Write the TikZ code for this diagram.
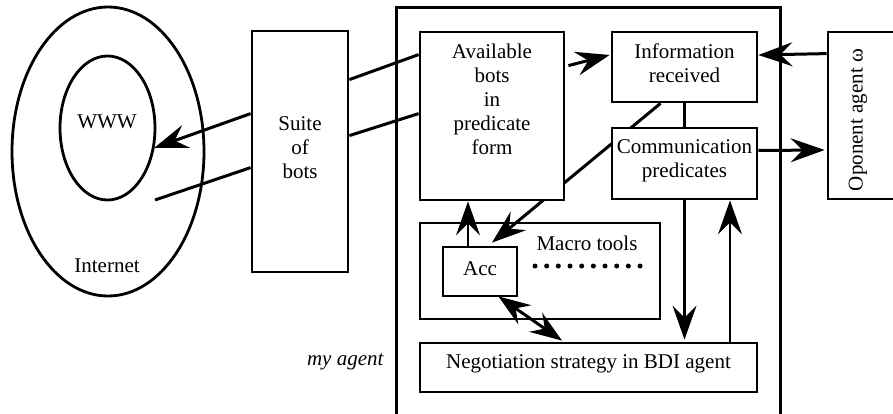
\documentclass[tikz,border=0pt]{standalone}
\usepackage{fontspec}
\setmainfont{Liberation Serif}
\usetikzlibrary{arrows.meta,shapes.geometric,calc,backgrounds}
\begin{document}
\begin{tikzpicture}[x=1pt,y=-1pt,
  every node/.style={font=\fontsize{21}{24}\selectfont},
  box/.style={draw,line width=2.8pt,minimum width=#1,inner sep=0pt},
  filledbox/.style={box=#1,fill=white},
  txt/.style={align=center,inner sep=0pt},
  oval/.style={draw,ellipse,line width=2.8pt,inner sep=0pt},
  conn/.style={line width=3pt},
  thin conn/.style={line width=2.4pt},
  arr/.style={-{Stealth[length=34pt,width=24pt,inset=12pt]}},
  darr/.style={{Stealth[length=32pt,width=23pt,inset=11pt]}-{Stealth[length=32pt,width=23pt,inset=11pt]}},
  tdot/.style={fill,circle,inner sep=0pt,minimum size=5pt}]
\useasboundingbox (0,0) rectangle (893,414);
\clip (0,0) rectangle (893,414);

% Internet and the WWW inside it
\node[oval,minimum width=192,minimum height=289] (internet) at (108,151.5) {};
\node[oval,minimum width=95,minimum height=144] (www) at (107.5,128) {};
\node[txt] (wwwtext) at (107,122) {WWW};
\node[txt] (nettext) at (107,266) {Internet};
\coordinate (wwwhit) at (154,148);
\coordinate (netend) at (155,200);

% Suite of bots
\node[box=96,minimum height=241] (suite) at (300,151.5) {};
\node[txt] (suitetext) at (suite.center) [yshift=4pt] {Suite\\of\\bots};

% my agent frame
\draw[conn] (396,430) -- (396,8) -- (780,8) -- (780,430);
\node[font=\fontsize{21}{24}\selectfont\itshape,anchor=east] (mylabel) at (387,362) {my agent};

% Boxes inside the agent
\node[filledbox=144,minimum height=168] (avail) at (492,116) {};
\node[txt] (availtext) at (492,99) {Available\\bots\\in\\predicate\\form};
\node[box=145,minimum height=70] (info) at (684.5,67) {};
\node[txt] (infotext) at (info.center) [yshift=4pt] {Information\\received};
\node[filledbox=145,minimum height=71] (comm) at (684.5,163.5) {};
\node[txt] (commtext) at (comm.center) [yshift=3pt] {Communication\\predicates};
\node[box=240,minimum height=96] (macro) at (540,271) {};
\node[txt] (macrotext) at (587,243) {Macro tools};
\node[box=74,minimum height=49] (acc) at (480,271.5) {};
\node[txt] (acctext) at (acc.center) [yshift=3pt] {Acc};
\node[box=337,minimum height=49] (nego) at (588.5,367.5) {};
\node[txt] (negotext) at (nego.center) [yshift=4pt] {Negotiation strategy in BDI agent};

% dotted row of further tools
\foreach \i in {0,...,9}
  \node[tdot] (dot\i) at (535+11.67*\i,266) {};

% Oponent agent
\node[box=72,minimum height=167] (opp) at (864,115.5) {};
\node[rotate=90] (opptext) at (858,120) {Oponent agent ω};

% Connectors
\draw[conn,arr] ($(suite.north west)+(0,84)$) -- (wwwhit);
\draw[conn] ($(suite.north west)+(0,138)$) -- (netend);
\draw[conn] ($(suite.north east)+(0,50)$) -- ($(avail.north west)+(0,24)$);
\draw[conn] ($(suite.north east)+(0,106)$) -- ($(avail.north west)+(0,83)$);
\draw[conn,arr] ($(avail.north east)+(3,35)$) -- ($(info.west)+(-1,-12)$);
\draw[conn,arr] ($(opp.north west)+(0,23)$) -- ($(info.east)+(0,-12)$);
\draw[conn,arr] ($(comm.east)+(0,-13)$) -- ($(opp.west)+(-2,34.5)$);
\draw[thin conn] (info.south) -- (comm.north);
\begin{pgfonlayer}{background}
  \draw[conn,arr] ($(info.south)+(-24,0)$) -- ($(acc.north)+(12,-3)$);
\end{pgfonlayer}
\draw[thin conn,arr] ($(acc.north)+(-12,0)$) -- ($(avail.south)+(-24,0)$);
\draw[conn,darr] ($(acc.south east)+(-20,-1)$) -- ($(nego.north)+(-26.5,-1)$);
\draw[thin conn,arr] (comm.south) -- ($(nego.north)+(96,-2)$);
\draw[thin conn,arr] ($(nego.north)+(141.5,0)$) -- ($(comm.south)+(45.5,0)$);
\end{tikzpicture}
\end{document}
